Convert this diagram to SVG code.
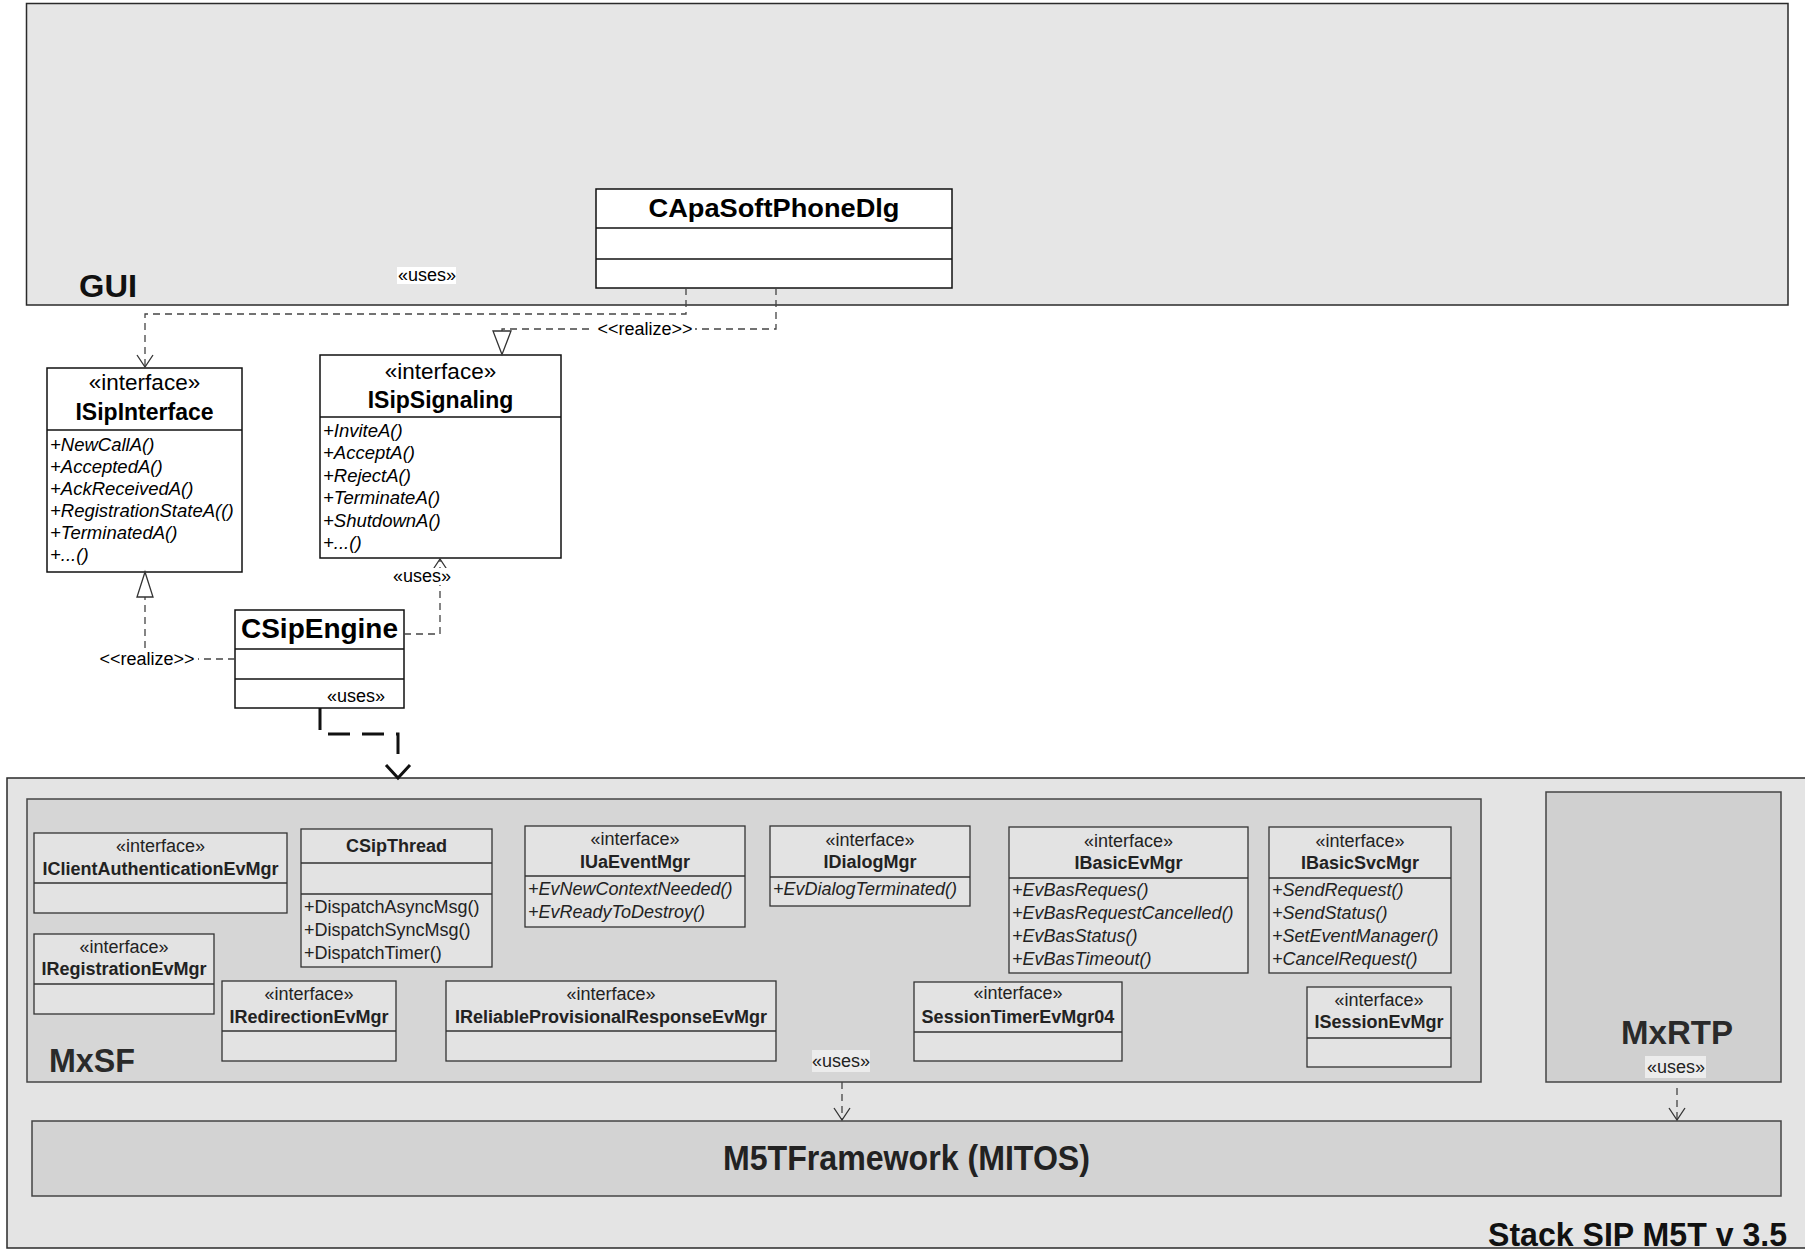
<svg xmlns="http://www.w3.org/2000/svg" width="1805" height="1250" viewBox="0 0 1805 1250">
<defs>
<style>
.pkg{stroke:#2a2a2a;stroke-width:1.5}
.cls{fill:#fff;stroke:#111;stroke-width:1.5}
.icls{fill:#e3e3e3;stroke:#333;stroke-width:1.3}
.div{stroke:#111;stroke-width:1.5}
.idiv{stroke:#333;stroke-width:1.3}
text{font-family:"Liberation Sans",Arial,sans-serif}
.st22{font-size:22.5px;text-anchor:middle;dominant-baseline:central;fill:#000}
.nm22{font-size:23px;font-weight:bold;text-anchor:middle;dominant-baseline:central;fill:#000}
.op18{font-size:18.5px;font-style:italic;dominant-baseline:central;fill:#000}
.st18{font-size:18px;text-anchor:middle;dominant-baseline:central;fill:#222}
.nm18{font-size:18px;font-weight:bold;text-anchor:middle;dominant-baseline:central;fill:#222}
.iop{font-size:18px;font-style:italic;dominant-baseline:central;fill:#222}
.rop{font-size:18px;dominant-baseline:central;fill:#222}
.lbl{font-size:18px;text-anchor:middle;dominant-baseline:central;fill:#000}
.big{font-weight:bold;fill:#2a2a2a}
.dash{fill:none;stroke:#444;stroke-width:1.3;stroke-dasharray:7 5}
</style>
<marker id="open" markerUnits="userSpaceOnUse" markerWidth="14" markerHeight="18" viewBox="0 0 14 18" refX="13" refY="9" orient="auto">
<path d="M1,1 L13,9 L1,17" fill="none" stroke="#333" stroke-width="1.3"/>
</marker>
</defs>

<!-- GUI package -->
<g id="gui">
<rect class="pkg" x="26.5" y="3.5" width="1761.5" height="301.5" fill="#e6e6e6"/>
<text x="79" y="297" font-size="32" font-weight="bold" fill="#111" textLength="58" lengthAdjust="spacingAndGlyphs">GUI</text>
</g>

<!-- Stack package -->
<g id="stack">
<rect class="pkg" x="7" y="778" width="1805" height="470" fill="#e4e4e4"/>
<text class="big" x="1488" y="1246" font-size="33" textLength="299" lengthAdjust="spacingAndGlyphs" style="fill:#111">Stack SIP M5T v 3.5</text>
</g>

<g id="mxsf">
<rect x="27" y="799" width="1454" height="283" fill="#d6d6d6" stroke="#444" stroke-width="1.5"/>
<text class="big" x="49" y="1072" font-size="34" textLength="86" lengthAdjust="spacingAndGlyphs">MxSF</text>
</g>

<g id="mxrtp">
<rect x="1546" y="792" width="235" height="290" fill="#d0d0d0" stroke="#444" stroke-width="1.5"/>
<text class="big" x="1677" y="1044" font-size="33" text-anchor="middle">MxRTP</text>
</g>

<g id="m5t">
<rect x="32" y="1121" width="1749" height="75" fill="#d3d3d3" stroke="#444" stroke-width="1.5"/>
<text class="big" x="723" y="1170" font-size="35" textLength="367" lengthAdjust="spacingAndGlyphs" style="fill:#222">M5TFramework (MITOS)</text>
</g>

<!-- Classes top -->
<g id="capasoftphonedlg">
<rect class="cls" x="596" y="189" width="356" height="99"/>
<line class="div" x1="596" y1="228" x2="952" y2="228"/>
<line class="div" x1="596" y1="259" x2="952" y2="259"/>
<text x="774" y="217" font-size="26" font-weight="bold" text-anchor="middle" textLength="251" lengthAdjust="spacingAndGlyphs">CApaSoftPhoneDlg</text>
</g>

<g id="isipinterface">
<rect class="cls" x="47" y="368" width="195" height="204"/>
<line class="div" x1="47" y1="430" x2="242" y2="430"/>
<text class="st22" x="144.5" y="382">«interface»</text>
<text class="nm22" x="144.5" y="412">ISipInterface</text>
<text class="op18" x="50" y="444">+NewCallA()</text>
<text class="op18" x="50" y="466">+AcceptedA()</text>
<text class="op18" x="50" y="488">+AckReceivedA()</text>
<text class="op18" x="50" y="510">+RegistrationStateA(()</text>
<text class="op18" x="50" y="532">+TerminatedA()</text>
<text class="op18" x="50" y="554">+...()</text>
</g>

<g id="isipsignaling">
<rect class="cls" x="320" y="355" width="241" height="203"/>
<line class="div" x1="320" y1="417" x2="561" y2="417"/>
<text class="st22" x="440.5" y="371">«interface»</text>
<text class="nm22" x="440.5" y="400">ISipSignaling</text>
<text class="op18" x="323" y="430">+InviteA()</text>
<text class="op18" x="323" y="452.5">+AcceptA()</text>
<text class="op18" x="323" y="475">+RejectA()</text>
<text class="op18" x="323" y="497.5">+TerminateA()</text>
<text class="op18" x="323" y="520">+ShutdownA()</text>
<text class="op18" x="323" y="542.5">+...()</text>
</g>

<g id="csipengine">
<rect class="cls" x="235" y="610" width="169" height="98"/>
<line class="div" x1="235" y1="649" x2="404" y2="649"/>
<line class="div" x1="235" y1="679" x2="404" y2="679"/>
<text x="241" y="638" font-size="28" font-weight="bold" textLength="157" lengthAdjust="spacingAndGlyphs">CSipEngine</text>
<text class="lbl" x="356" y="696">«uses»</text>
</g>

<!-- Classes inside MxSF -->
<g id="iclientauthenticationevmgr">
<rect class="icls" x="34" y="833" width="253" height="80"/>
<line class="idiv" x1="34" y1="883" x2="287" y2="883"/>
<text class="st18" x="160.5" y="846">«interface»</text>
<text class="nm18" x="160.5" y="869">IClientAuthenticationEvMgr</text>
</g>

<g id="csipthread">
<rect class="icls" x="301" y="829" width="191" height="138"/>
<line class="idiv" x1="301" y1="863" x2="492" y2="863"/>
<line class="idiv" x1="301" y1="894" x2="492" y2="894"/>
<text class="nm18" x="396.5" y="846">CSipThread</text>
<text class="rop" x="304" y="907">+DispatchAsyncMsg()</text>
<text class="rop" x="304" y="930">+DispatchSyncMsg()</text>
<text class="rop" x="304" y="953">+DispatchTimer()</text>
</g>

<g id="iuaeventmgr">
<rect class="icls" x="525" y="826" width="220" height="101"/>
<line class="idiv" x1="525" y1="876" x2="745" y2="876"/>
<text class="st18" x="635" y="839">«interface»</text>
<text class="nm18" x="635" y="862">IUaEventMgr</text>
<text class="iop" x="528" y="889">+EvNewContextNeeded()</text>
<text class="iop" x="528" y="912">+EvReadyToDestroy()</text>
</g>

<g id="idialogmgr">
<rect class="icls" x="770" y="826" width="200" height="80"/>
<line class="idiv" x1="770" y1="877" x2="970" y2="877"/>
<text class="st18" x="870" y="840">«interface»</text>
<text class="nm18" x="870" y="862">IDialogMgr</text>
<text class="iop" x="773" y="889">+EvDialogTerminated()</text>
</g>

<g id="ibasicevmgr">
<rect class="icls" x="1009" y="827" width="239" height="146"/>
<line class="idiv" x1="1009" y1="878" x2="1248" y2="878"/>
<text class="st18" x="1128.5" y="841">«interface»</text>
<text class="nm18" x="1128.5" y="863">IBasicEvMgr</text>
<text class="iop" x="1012" y="890">+EvBasReques()</text>
<text class="iop" x="1012" y="913">+EvBasRequestCancelled()</text>
<text class="iop" x="1012" y="936">+EvBasStatus()</text>
<text class="iop" x="1012" y="959">+EvBasTimeout()</text>
</g>

<g id="ibasicsvcmgr">
<rect class="icls" x="1269" y="827" width="182" height="146"/>
<line class="idiv" x1="1269" y1="878" x2="1451" y2="878"/>
<text class="st18" x="1360" y="841">«interface»</text>
<text class="nm18" x="1360" y="863">IBasicSvcMgr</text>
<text class="iop" x="1272" y="890">+SendRequest()</text>
<text class="iop" x="1272" y="913">+SendStatus()</text>
<text class="iop" x="1272" y="936">+SetEventManager()</text>
<text class="iop" x="1272" y="959">+CancelRequest()</text>
</g>

<g id="iregistrationevmgr">
<rect class="icls" x="34" y="934" width="180" height="80"/>
<line class="idiv" x1="34" y1="984" x2="214" y2="984"/>
<text class="st18" x="124" y="947">«interface»</text>
<text class="nm18" x="124" y="969">IRegistrationEvMgr</text>
</g>

<g id="iredirectionevmgr">
<rect class="icls" x="222" y="981" width="174" height="80"/>
<line class="idiv" x1="222" y1="1031" x2="396" y2="1031"/>
<text class="st18" x="309" y="994">«interface»</text>
<text class="nm18" x="309" y="1017">IRedirectionEvMgr</text>
</g>

<g id="ireliableprovisionalresponseevmgr">
<rect class="icls" x="446" y="981" width="330" height="80"/>
<line class="idiv" x1="446" y1="1031" x2="776" y2="1031"/>
<text class="st18" x="611" y="994">«interface»</text>
<text class="nm18" x="611" y="1017">IReliableProvisionalResponseEvMgr</text>
</g>

<g id="sessiontimerevmgr04">
<rect class="icls" x="914" y="982" width="208" height="79"/>
<line class="idiv" x1="914" y1="1032" x2="1122" y2="1032"/>
<text class="st18" x="1018" y="993">«interface»</text>
<text class="nm18" x="1018" y="1017">SessionTimerEvMgr04</text>
</g>

<g id="isessionevmgr">
<rect class="icls" x="1307" y="987" width="144" height="80"/>
<line class="idiv" x1="1307" y1="1038" x2="1451" y2="1038"/>
<text class="st18" x="1379" y="1000">«interface»</text>
<text class="nm18" x="1379" y="1022">ISessionEvMgr</text>
</g>

<!-- Connectors -->
<g id="connectors">
<!-- CApaSoftPhoneDlg uses ISipInterface -->
<path class="dash" d="M686,288 V314 H145 V367" marker-end="url(#open)"/>
<rect x="397" y="267" width="59" height="17" fill="#fff"/>
<text class="lbl" x="427" y="275" font-size="17">«uses»</text>

<!-- CApaSoftPhoneDlg realizes ISipSignaling -->
<path class="dash" d="M776,288 V329 H502 V331"/>
<polygon points="502,354.5 493,331 511,331" fill="#fff" stroke="#333" stroke-width="1.3"/>
<rect x="594" y="321" width="101" height="17" fill="#fff"/>
<text class="lbl" x="645" y="329">&lt;&lt;realize&gt;&gt;</text>

<!-- CSipEngine uses ISipSignaling -->
<path class="dash" d="M404,634 H440 V559" marker-end="url(#open)"/>
<rect x="393" y="568" width="59" height="17" fill="#fff"/>
<text class="lbl" x="422" y="576">«uses»</text>

<!-- CSipEngine realizes ISipInterface -->
<path class="dash" d="M235,659 H198"/>
<path class="dash" d="M145,648 V597"/>
<polygon points="145,572 137,597 153,597" fill="#fff" stroke="#333" stroke-width="1.3"/>
<text class="lbl" x="147" y="659">&lt;&lt;realize&gt;&gt;</text>

<!-- CSipEngine uses Stack -->
<path d="M320,708 V734 H398 V765" fill="none" stroke="#111" stroke-width="3" stroke-dasharray="22 12"/>
<path d="M386,765 L398,778 L410,765" fill="none" stroke="#111" stroke-width="3"/>

<!-- MxSF uses M5TFramework -->
<rect x="812" y="1050" width="58" height="22" fill="#ececec"/>
<text class="lbl" x="841" y="1061" style="fill:#222">«uses»</text>
<path class="dash" d="M842,1082 V1120" marker-end="url(#open)"/>

<!-- MxRTP uses M5TFramework -->
<rect x="1645" y="1056" width="61" height="22" fill="#ececec"/>
<text class="lbl" x="1676" y="1067" style="fill:#222">«uses»</text>
<path class="dash" d="M1677,1088 V1120" marker-end="url(#open)"/>
</g>
</svg>
